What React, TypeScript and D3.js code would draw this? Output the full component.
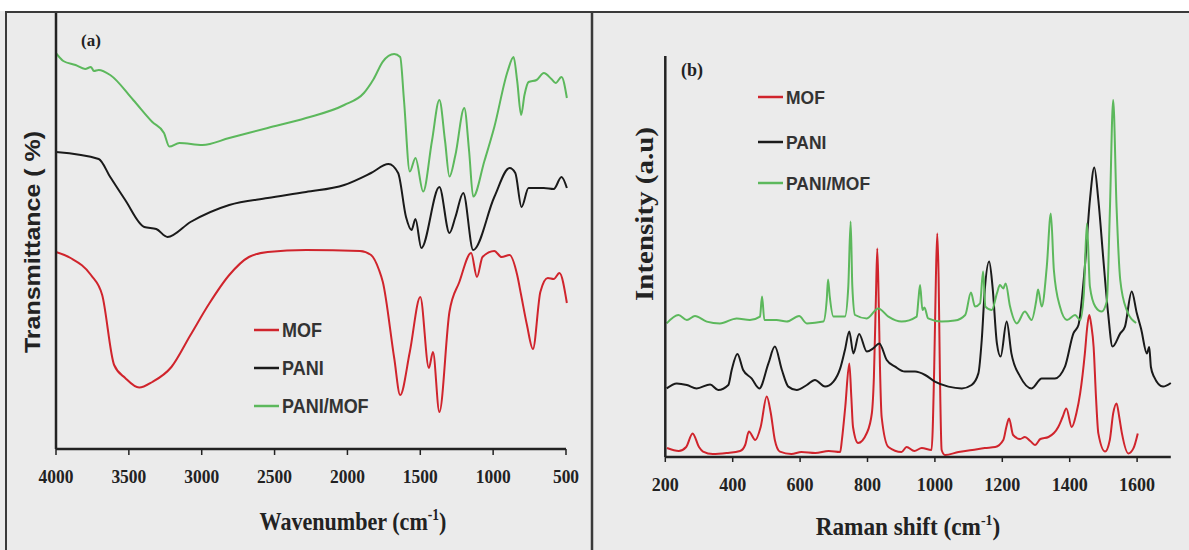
import React from 'react';
import * as d3 from 'd3';

// ---------- Panel (a): FTIR ----------
const ftirTicks = [4000, 3500, 3000, 2500, 2000, 1500, 1000, 500];

const ftirMOF: [number, number][] = [
  [4000, 109.5], [3900, 106.5], [3760, 98], [3683, 88], [3601, 53], [3525, 46.5], [3429, 41.7],
  [3339, 44.5], [3208, 52], [3077, 68], [2946, 84], [2811, 98], [2676, 107], [2547, 109.5],
  [2284, 110.5], [1914, 110], [1838, 108], [1783, 100.5], [1757, 94.5], [1679, 56.5], [1638, 38],
  [1572, 59.5], [1500, 87], [1441, 51.5], [1413, 59.5], [1369, 29.5], [1300, 79.5], [1232, 94.5],
  [1151, 109], [1111, 97], [1073, 107], [992, 110], [942, 107], [887, 108], [835, 98], [808, 88],
  [768, 73], [727, 61], [676, 89.5], [625, 96.5], [584, 96], [545, 99], [494, 84],
];

const ftirPANI: [number, number][] = [
  [4000, 159.5], [3707, 156], [3628, 147], [3525, 135.5], [3394, 122], [3312, 121], [3235, 117],
  [3077, 124.5], [2811, 133], [2547, 136.5], [2284, 139.5], [2022, 143], [1838, 149], [1718, 153.5],
  [1652, 149], [1598, 127], [1560, 120.5], [1533, 126], [1493, 111.5], [1369, 142], [1300, 119],
  [1259, 127], [1205, 139], [1137, 110.5], [992, 137], [887, 151.5], [848, 149], [805, 132],
  [757, 141.5], [652, 141.5], [584, 141], [531, 147], [494, 141.5],
];

const ftirPANIMOF: [number, number][] = [
  [4000, 208.9], [3950, 205], [3866, 203], [3800, 201], [3760, 202], [3740, 200], [3707, 200.5],
  [3628, 198], [3470, 185.5], [3339, 174.5], [3259, 169], [3222, 162.2], [3153, 164], [2995, 163],
  [2811, 166.5], [2547, 171.5], [2284, 176.5], [2022, 183], [1887, 189], [1820, 196], [1757, 204.7],
  [1679, 208.5], [1638, 207], [1612, 185.5], [1572, 149.7], [1533, 156.5], [1480, 139.7],
  [1420, 165], [1369, 185.5], [1330, 165], [1300, 147.2], [1259, 158], [1198, 181.5], [1165, 160],
  [1137, 137.2], [1060, 155], [992, 172], [900, 200], [860, 207], [835, 195], [808, 178], [785, 188],
  [757, 194.5], [702, 195.5], [652, 199], [600, 196], [571, 194], [531, 197], [494, 186.5],
];

// ---------- Panel (b): Raman ----------
const ramanTicks = [200, 400, 600, 800, 1000, 1200, 1400, 1600];

const ramanMOF: [number, number][] = [
  [205, 4.5], [240, 3], [262, 5], [281, 11.8], [300, 5], [312, 2.7], [341, 1.5], [382, 2], [422, 3],
  [437, 6], [448, 12.7], [467, 8.5], [483, 15], [501, 30.2], [513, 22], [525, 8.5], [540, 2.7],
  [574, 1.5], [604, 2.5], [645, 2], [685, 3], [719, 2.5], [724, 8.5], [734, 25], [746, 46.8],
  [752, 30], [757, 15], [772, 7], [798, 12], [813, 22], [819, 40], [825, 80], [829, 104.3],
  [833, 80], [837, 45], [842, 20], [862, 5], [901, 2.5], [916, 5], [939, 3], [961, 4.5], [990, 3.5],
  [998, 45], [1003, 90], [1007, 111.8], [1011, 90], [1015, 40], [1020, 3.5], [1030, 1], [1070, 2.5],
  [1111, 3.5], [1148, 4.5], [1179, 5], [1203, 8.5], [1212, 15], [1220, 19.3], [1232, 11], [1253, 9],
  [1267, 10], [1283, 8], [1297, 6], [1313, 9], [1337, 10], [1366, 15], [1379, 20], [1390, 24.3],
  [1406, 15], [1420, 22], [1431, 31.8], [1445, 51.8], [1452, 65], [1458, 71], [1464, 66], [1471, 55],
  [1478, 30], [1485, 11.8], [1505, 2.7], [1519, 8.5], [1529, 21.8], [1539, 26.8], [1547, 20],
  [1555, 11.8], [1574, 1.8], [1589, 4.3], [1602, 11.8],
];

const ramanPANI: [number, number][] = [
  [204, 34.3], [234, 36.8], [264, 36], [293, 34.3], [333, 36.3], [357, 33.5], [387, 36], [397, 43.5],
  [414, 51.5], [431, 43.5], [456, 39.3], [479, 34.3], [506, 46.8], [525, 55.2], [546, 43.5],
  [565, 35.2], [590, 33.5], [620, 36], [644, 38.5], [674, 35.2], [699, 37.7], [719, 44.3],
  [733, 53.5], [746, 62.7], [758, 51.8], [775, 61.5], [798, 52.7], [817, 54.3], [835, 56.8],
  [857, 48.5], [882, 45.2], [911, 42.7], [941, 42.7], [971, 41], [1000, 37.7], [1040, 35.2],
  [1080, 34.3], [1109, 36], [1129, 41.8], [1139, 58.5], [1148, 83.5], [1161, 97.7], [1171, 85.2],
  [1184, 56.8], [1195, 50.2], [1213, 67.7], [1227, 51.8], [1253, 40.2], [1287, 34.3], [1317, 39.3],
  [1356, 39.3], [1386, 45.2], [1411, 61.8], [1426, 66], [1445, 95.2], [1460, 128.5], [1473, 144.8],
  [1485, 128.5], [1500, 98.5], [1514, 71.8], [1527, 55.2], [1550, 61.8], [1564, 65.2], [1584, 82.7],
  [1599, 72], [1612, 64], [1629, 51.8], [1636, 55], [1641, 45], [1650, 40.2], [1677, 35.2],
  [1700, 37],
];

const ramanPANIMOF: [number, number][] = [
  [204, 66.8], [239, 71], [264, 68.5], [288, 70.5], [323, 67.7], [362, 66.8], [412, 69.3], [451, 68.5],
  [481, 70.2], [487, 80.2], [494, 68.5], [530, 68.5], [560, 67.7], [597, 70.5], [620, 66.8],
  [669, 67.7], [679, 78.5], [683, 88.8], [688, 80.2], [699, 70.2], [733, 70.2], [743, 85.2],
  [750, 117.7], [755, 85.2], [763, 71], [798, 69.3], [832, 74.3], [862, 70.2], [901, 67.7], [946, 70.2],
  [951, 78.5], [956, 86], [963, 73.5], [969, 74.8], [980, 69.3], [1020, 67.7], [1059, 68.2], [1090, 71],
  [1107, 82.2], [1119, 75.2], [1134, 76.8], [1143, 92.7], [1150, 75.2], [1169, 73.5], [1184, 81.8],
  [1193, 86], [1203, 84.3], [1210, 86.8], [1223, 75.2], [1243, 66.8], [1267, 72.7], [1287, 68.5],
  [1301, 78.5], [1306, 83.8], [1317, 75.2], [1332, 95.2], [1344, 121.8], [1353, 93.5], [1371, 75.2],
  [1392, 68.5], [1416, 71], [1431, 68.5], [1442, 81.8], [1451, 116.8], [1460, 85.2], [1476, 75.2],
  [1495, 72.7], [1510, 77.7], [1519, 121.8], [1529, 178.5], [1539, 125.2], [1550, 88.5],
  [1569, 73.5], [1597, 67],
];

const seriesNames = ['MOF', 'PANI', 'PANI/MOF'];
const seriesColors = ['#d0242c', '#1a1a1a', '#5cb85c'];

const SERIF = "'Liberation Serif', 'Times New Roman', serif";
const SANS = "'Liberation Sans', Arial, sans-serif";

export default function App() {
  const xA = d3.scaleLinear().domain([4000, 500]).range([56, 566]);
  const yA = d3.scaleLinear().domain([11, 229]).range([449, 13]);
  const xB = d3.scaleLinear().domain([200, 1700]).range([665.3, 1170.8]);
  const yB = d3.scaleLinear().domain([0, 200.5]).range([457, 56]);

  const lineA = d3.line<[number, number]>().x(d => xA(d[0])).y(d => yA(d[1])).curve(d3.curveMonotoneX);
  const lineB = d3.line<[number, number]>().x(d => xB(d[0])).y(d => yB(d[1])).curve(d3.curveMonotoneX);

  const ftirSeries = [ftirMOF, ftirPANI, ftirPANIMOF];
  const ramanSeries = [ramanMOF, ramanPANI, ramanPANIMOF];

  const legendA = { x: 254, ys: [330, 368, 406] };
  const legendB = { x: 758, ys: [97, 142, 183] };

  return (
    <svg width={1189} height={550} style={{ position: 'absolute', left: 0, top: 0 }}>
      <rect x={0} y={0} width={1189} height={550} fill="#ebebeb" />
      <rect x={0} y={0} width={1189} height={11} fill="#ffffff" />
      <rect x={6} y={12} width={1200} height={600} fill="none" stroke="#3a3a3a" strokeWidth={2} />
      <line x1={592} x2={592} y1={12} y2={550} stroke="#3a3a3a" strokeWidth={2.5} />

      {/* Panel (a) */}
      <g>
        {ftirSeries.map((s, i) => (
          <path key={i} d={lineA(s) || ''} fill="none" stroke={seriesColors[i]} strokeWidth={2} strokeLinejoin="round" />
        ))}
        <line x1={xA.range()[0]} x2={xA.range()[0]} y1={yA.range()[1]} y2={yA.range()[0]} stroke="#222" strokeWidth={2.5} />
        <line x1={xA.range()[0]} x2={xA.range()[1]} y1={yA.range()[0]} y2={yA.range()[0]} stroke="#222" strokeWidth={2.5} />
        {ftirTicks.map(t => (
          <g key={t}>
            <line x1={xA(t)} x2={xA(t)} y1={yA.range()[0]} y2={yA.range()[0] + 6} stroke="#222" strokeWidth={1.5} />
            <text transform={`translate(${xA(t)},483) scale(0.92,1)`} textAnchor="middle" fontFamily={SERIF} fontWeight="bold" fontSize={19} fill="#222">{t}</text>
          </g>
        ))}
        <text transform="translate(353,530) scale(0.85,1)" textAnchor="middle" fontFamily={SERIF} fontWeight="bold" fontSize={26} fill="#222">
          Wavenumber (cm<tspan fontSize={16} dy={-10}>-1</tspan><tspan dy={10}>)</tspan>
        </text>
        <text transform="translate(40,242) rotate(-90) scale(1,0.85)" textAnchor="middle" fontFamily={SANS} fontWeight="bold" fontSize={25} fill="#222">Transmittance ( %)</text>
        <text x={81} y={46} fontFamily={SERIF} fontWeight="bold" fontSize={17} fill="#222">(a)</text>
        {seriesNames.map((n, i) => (
          <g key={n}>
            <line x1={legendA.x} x2={legendA.x + 25} y1={legendA.ys[i]} y2={legendA.ys[i]} stroke={seriesColors[i]} strokeWidth={2.5} />
            <text transform={`translate(${legendA.x + 28},${legendA.ys[i] + 7}) scale(0.9,1)`} fontFamily={SANS} fontWeight="bold" fontSize={20} fill="#333">{n}</text>
          </g>
        ))}
      </g>

      {/* Panel (b) */}
      <g>
        {ramanSeries.map((s, i) => (
          <path key={i} d={lineB(s) || ''} fill="none" stroke={seriesColors[i]} strokeWidth={2} strokeLinejoin="round" />
        ))}
        <line x1={xB.range()[0]} x2={xB.range()[0]} y1={yB.range()[1]} y2={yB.range()[0]} stroke="#222" strokeWidth={2.5} />
        <line x1={xB.range()[0]} x2={xB.range()[1]} y1={yB.range()[0]} y2={yB.range()[0]} stroke="#222" strokeWidth={2.5} />
        {ramanTicks.map(t => (
          <g key={t}>
            <line x1={xB(t)} x2={xB(t)} y1={yB.range()[0]} y2={yB.range()[0] + 5} stroke="#222" strokeWidth={1.5} />
            <text transform={`translate(${xB(t)},491) scale(0.95,1)`} textAnchor="middle" fontFamily={SERIF} fontWeight="bold" fontSize={19} fill="#222">{t}</text>
          </g>
        ))}
        <text transform="translate(908,535) scale(0.93,1)" textAnchor="middle" fontFamily={SERIF} fontWeight="bold" fontSize={25} fill="#222">
          Raman shift (cm<tspan fontSize={15} dy={-10}>-1</tspan><tspan dy={10}>)</tspan>
        </text>
        <text transform="translate(653,214) rotate(-90) scale(1,0.9)" textAnchor="middle" fontFamily={SERIF} fontWeight="bold" fontSize={29} fill="#222">Intensity (a.u)</text>
        <text x={681} y={76} fontFamily={SERIF} fontWeight="bold" fontSize={18} fill="#222">(b)</text>
        {seriesNames.map((n, i) => (
          <g key={n}>
            <line x1={legendB.x} x2={legendB.x + 25} y1={legendB.ys[i]} y2={legendB.ys[i]} stroke={seriesColors[i]} strokeWidth={2.5} />
            <text transform={`translate(${legendB.x + 28},${legendB.ys[i] + 7}) scale(0.92,1)`} fontFamily={SANS} fontWeight="bold" fontSize={19} fill="#333">{n}</text>
          </g>
        ))}
      </g>
    </svg>
  );
}
